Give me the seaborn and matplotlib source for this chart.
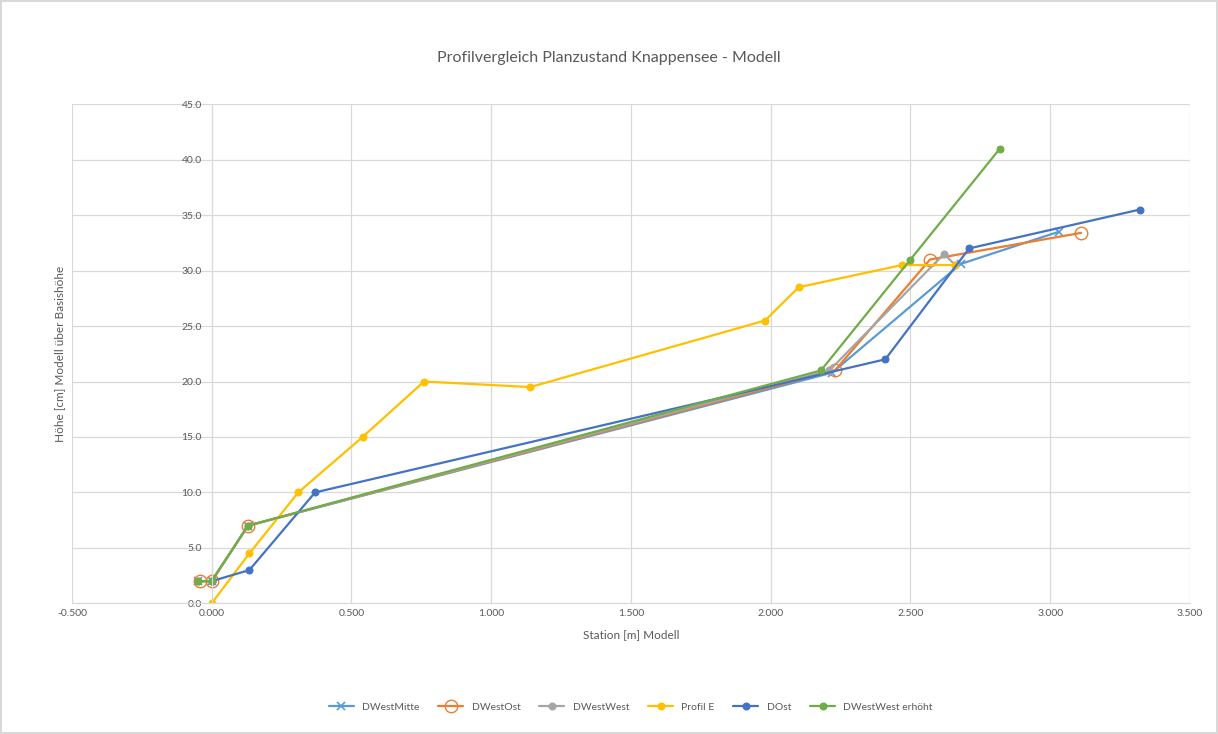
import numpy as np
import pandas as pd
import matplotlib
matplotlib.use("Agg")
import matplotlib.pyplot as plt
import seaborn as sns
from matplotlib.ticker import FormatStrFormatter, MultipleLocator

# station [m] and height [cm] per profile
mitte_x = [-0.05, 0.0, 0.13, 2.22, 2.68, 3.03]
mitte_y = [2.0, 2.0, 7.0, 20.8, 30.6, 33.5]
ost_x = [-0.04, 0.0, 0.13, 2.23, 2.57, 3.11]
ost_y = [2.0, 2.0, 7.0, 21.0, 31.0, 33.4]
west_x = [-0.05, 0.0, 0.13, 2.21, 2.62, 2.66]
west_y = [2.0, 2.0, 7.0, 21.0, 31.5, 30.5]
profil_e_x = [0.0, 0.135, 0.31, 0.54, 0.76, 1.14, 1.98, 2.10, 2.47, 2.66]
profil_e_y = [0.0, 4.5, 10.0, 15.0, 20.0, 19.5, 25.5, 28.5, 30.5, 30.5]
dost_x = [0.0, 0.135, 0.37, 2.41, 2.71, 3.32]
dost_y = [2.0, 3.0, 10.0, 22.0, 32.0, 35.5]
erhoeht_x = [-0.05, 0.0, 0.13, 2.18, 2.50, 2.82]
erhoeht_y = [2.0, 2.0, 7.0, 21.0, 31.0, 41.0]

series = [
    ("DWestMitte", mitte_x, mitte_y, "#5B9BD5", "x"),
    ("DWestOst", ost_x, ost_y, "#ED7D31", "o"),
    ("DWestWest", west_x, west_y, "#A5A5A5", "o"),
    ("Profil E", profil_e_x, profil_e_y, "#FFC000", "o"),
    ("DOst", dost_x, dost_y, "#4472C4", "o"),
    ("DWestWest erhöht", erhoeht_x, erhoeht_y, "#70AD47", "o"),
]

sns.set_style("white")
plt.rcParams['font.family'] = ['Lato', 'DejaVu Sans']

fig = plt.figure(figsize=(12.18, 7.34), dpi=100)
fig.patch.set_edgecolor("#d9d9d9")
fig.patch.set_linewidth(1.5)
ax = fig.add_axes([0.059, 0.178, 0.918, 0.680])

for name, xs, ys, col, mk in series:
    df = pd.DataFrame({"x": xs, "y": ys})
    if name == "DWestOst":
        sns.lineplot(data=df, x="x", y="y", ax=ax, color=col, sort=False, estimator=None,
                     marker="o", markersize=9, markerfacecolor="none", markeredgecolor=col,
                     markeredgewidth=1.0, linewidth=1.6, label=name)
    elif mk == "x":
        sns.lineplot(data=df, x="x", y="y", ax=ax, color=col, sort=False, estimator=None,
                     marker="x", markersize=6, markeredgecolor=col, markeredgewidth=1.2,
                     linewidth=1.6, label=name)
    else:
        sns.lineplot(data=df, x="x", y="y", ax=ax, color=col, sort=False, estimator=None,
                     marker="o", markersize=5, markeredgecolor=col,
                     linewidth=1.6, label=name)

ax.set_xlim(-0.5, 3.5)
ax.set_ylim(0, 45)
ax.xaxis.set_major_locator(MultipleLocator(0.5))
ax.yaxis.set_major_locator(MultipleLocator(5))
ax.xaxis.set_major_formatter(FormatStrFormatter("%.3f"))
ax.yaxis.set_major_formatter(FormatStrFormatter("%.1f"))
ax.grid(True, color="#d9d9d9", linewidth=0.9)
ax.set_axisbelow(True)

# value axis crosses at station 0 like in the original
ax.spines["left"].set_position(("data", 0))
ax.spines["left"].set_color("#d9d9d9")
ax.spines["bottom"].set_color("#d9d9d9")
ax.spines["top"].set_visible(False)
ax.spines["right"].set_visible(False)
ax.tick_params(axis="both", length=0, labelsize=7.5, labelcolor="#595959", pad=7)
ax.tick_params(axis="x", pad=4)

ax.set_xlabel("Station [m] Modell", fontsize=8.5, color="#595959", labelpad=8)
ax.set_ylabel("")
fig.text(0.049, 0.518, "Höhe [cm] Modell über Basishöhe", rotation=90, fontsize=8.5,
         color="#595959", ha="center", va="center")

fig.suptitle("Profilvergleich Planzustand Knappensee - Modell", y=0.93, fontsize=11.5,
             color="#595959")

ax.legend(loc="center", bbox_to_anchor=(0.5, -0.208), ncol=6, frameon=False, fontsize=7.5,
          labelcolor="#595959", handlelength=2.4, columnspacing=1.8)

fig.savefig("out.png", dpi=100)
